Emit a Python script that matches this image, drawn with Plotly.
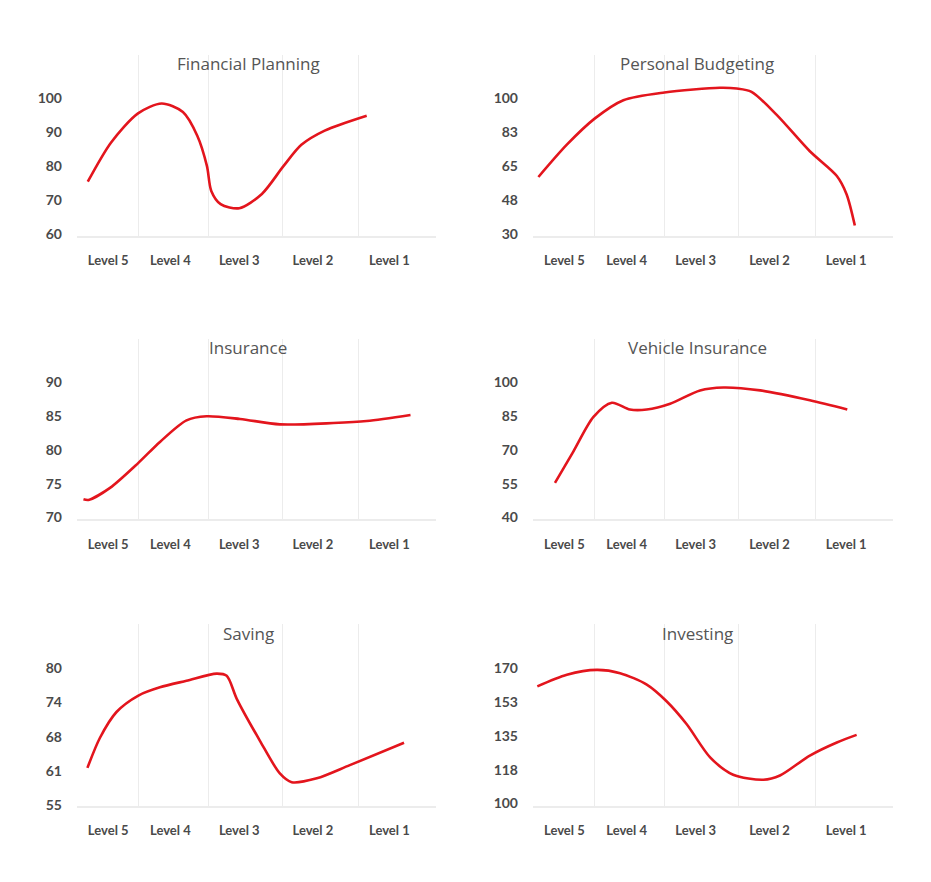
import plotly.graph_objects as go

OFF = 8                      # page body margin of the browser
W, H = 931 - 2 * OFF, 882 - 2 * OFF

titles = ["Financial Planning", "Personal Budgeting", "Insurance",
          "Vehicle Insurance", "Saving", "Investing"]
level_labels = ["Level 5", "Level 4", "Level 3", "Level 2", "Level 1"]
level_pos = [8.7, 26.0, 45.2, 65.7, 87.0]        # label positions on the 0-100 x scale
grid_pos = [17.0, 36.5, 57.2, 78.5, 100.0]        # vertical divider positions

# y-axis ticks per panel
fp_ticks = [60, 70, 80, 90, 100]
pb_ticks = [30, 47.5, 65, 82.5, 100]
ins_ticks = [70, 75, 80, 85, 90]
vi_ticks = [40, 55, 70, 85, 100]
sav_ticks = [55, 61.25, 67.5, 73.75, 80]
inv_ticks = [100, 117.5, 135, 152.5, 170]

# series
fp_x = [3.0, 9.5, 17.0, 23.6, 29.5, 33.5, 36.2, 37.4, 40.0, 45.2, 51.5, 57.5, 62.5, 69.0, 80.7]
fp_y = [75.4, 87.0, 95.6, 98.5, 96.0, 89.0, 80.0, 72.7, 68.8, 67.6, 71.8, 80.0, 86.3, 90.5, 94.9]

pb_x = [1.5, 9.4, 17.2, 25.1, 36.5, 51.9, 56.6, 60.7, 67.7, 76.9, 84.4, 87.1, 89.4]
pb_y = [59.4, 76.1, 89.7, 99.1, 103.1, 105.5, 105.1, 103.4, 91.5, 72.7, 59.9, 50.5, 34.3]

ins_x = [1.8, 3.2, 9.2, 17.1, 23.1, 30.5, 36.1, 45.4, 56.5, 71.4, 80.7, 92.9]
ins_y = [72.7, 72.6, 74.4, 78.1, 81.2, 84.4, 85.0, 84.6, 83.8, 84.0, 84.3, 85.2]

vi_x = [6.1, 11.2, 16.8, 21.9, 26.9, 31.6, 38.1, 46.4, 52.9, 63.1, 76.9, 87.3]
vi_y = [55.4, 69.3, 84.7, 91.0, 88.0, 88.0, 90.6, 96.5, 97.8, 96.5, 92.1, 88.0]

sav_x = [2.9, 6.4, 11.0, 17.1, 23.1, 30.5, 38.9, 41.7, 44.5, 51.0, 56.5, 59.8, 66.8, 76.0, 91.1]
sav_y = [61.8, 67.3, 72.0, 75.0, 76.5, 77.7, 79.0, 78.6, 74.4, 66.7, 60.8, 59.2, 59.9, 62.3, 66.4]

inv_x = [1.2, 9.4, 17.7, 24.2, 31.6, 37.1, 42.7, 49.2, 55.6, 64.0, 68.6, 76.9, 84.4, 89.9]
inv_y = [160.6, 166.6, 169.1, 167.4, 161.5, 152.9, 141.0, 123.9, 114.9, 112.3, 114.5, 124.8, 131.6, 135.5]

series = [(fp_x, fp_y, fp_ticks), (pb_x, pb_y, pb_ticks), (ins_x, ins_y, ins_ticks),
          (vi_x, vi_y, vi_ticks), (sav_x, sav_y, sav_ticks), (inv_x, inv_y, inv_ticks)]

# panel boxes in window pixels (left, right, top, bottom)
cols = [(77, 436), (533, 893)]
rows = [(55, 238), (342, 524), (630, 813)]
# window-pixel position of first and last y tick in each panel
tick_px = [(236.0, 99.3), (236.0, 99.3), (522.3, 386.0),
           (522.3, 386.0), (812.6, 674.3), (811.0, 674.3)]
title_pos = [(248, 64), (697, 64), (248, 351), (697, 351), (248, 639), (697, 639)]

RED = "#e3151d"
TXT = "#4a4a4a"
GRID = "#ececec"

def px(v):
    return (v - OFF) / W

def py(v):
    return 1 - (v - OFF) / H

fig = go.Figure()
layout = dict(
    width=W, height=H, margin=dict(l=0, r=0, t=0, b=0),
    paper_bgcolor="white", plot_bgcolor="rgba(0,0,0,0)",
    showlegend=False, annotations=[],
)

for i, (xs, ys, ticks) in enumerate(series):
    r, c = divmod(i, 2)
    (x0, x1), (t, b) = cols[c], rows[r]
    ax = "" if i == 0 else str(i + 1)
    p_lo, p_hi = tick_px[i]
    s = (ticks[-1] - ticks[0]) / (p_lo - p_hi)
    y_lo = ticks[0] - (b - p_lo) * s
    y_hi = ticks[-1] + (p_hi - t) * s
    fig.add_trace(go.Scatter(x=xs, y=ys, mode="lines", xaxis="x" + ax, yaxis="y" + ax,
                             line=dict(color=RED, width=2.6, shape="spline", smoothing=0.8),
                             hoverinfo="skip"))
    layout["xaxis" + ax] = dict(
        domain=[px(x0), px(x1)], anchor="y" + ax, range=[0, 100],
        tickmode="array", tickvals=level_pos, ticktext=level_labels,
        showgrid=False, zeroline=False, showline=True, linecolor=GRID, linewidth=1.5,
        ticks="", ticklabelstandoff=12,
        tickfont=dict(family="Lato", size=13, color=TXT, weight="bold"),
        minor=dict(tickmode="array", tickvals=grid_pos, showgrid=True,
                   gridcolor=GRID, gridwidth=1, ticks=""),
        fixedrange=True,
    )
    layout["yaxis" + ax] = dict(
        domain=[py(b), py(t)], anchor="x" + ax,
        range=[y_lo, y_hi],
        tickmode="array", tickvals=ticks,
        ticktext=[str(int(v + 0.5)) for v in ticks],
        showgrid=False, zeroline=False, showline=False, ticks="",
        ticklabelstandoff=14,
        tickfont=dict(family="Lato", size=14, color=TXT, weight="bold"),
        fixedrange=True,
    )
    tx, ty = title_pos[i]
    layout["annotations"].append(dict(
        text=titles[i], x=px(tx), y=py(ty), xref="paper", yref="paper",
        xanchor="center", yanchor="middle", showarrow=False,
        font=dict(family="Open Sans", size=17, color="#555555")))

fig.update_layout(**layout)
fig.write_html("out.html")
